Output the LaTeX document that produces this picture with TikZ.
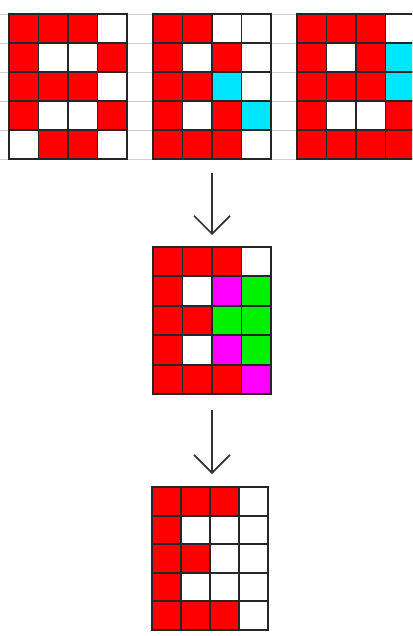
\documentclass[tikz,border=0pt]{standalone}
\usetikzlibrary{arrows.meta}
\definecolor{colR}{HTML}{FF0000}
\definecolor{colW}{HTML}{FFFFFF}
\definecolor{colC}{HTML}{00E6FF}
\definecolor{colG}{HTML}{00F000}
\definecolor{colM}{HTML}{FF00FF}
\tikzset{
  cell/.style={draw=black!85, line width=1.9pt, inner sep=0pt, outer sep=0pt, anchor=north west},
  gridbox/.style={inner sep=0pt, outer sep=0pt},
  faint/.style={draw=black!18, line width=0.6pt},
  arr/.style={draw=black!80, line width=1.7pt, -{Straight Barb[length=18pt,width=36pt,line width=1.7pt]}}
}
\newcommand\drawgrid[6]{%
  \foreach \row [count=\r] in {#6}{%
    \foreach \c [count=\k] in \row {%
      \node[cell, minimum width=#4pt, minimum height=#5pt, fill=col\c]
        (#1-\r-\k) at ({#2+(\k-1)*#4},{#3+(\r-1)*#5}) {};
    }%
  }%
  \node[gridbox, minimum width=4*#4pt, minimum height=5*#5pt] (#1) at ({#2+2*#4},{#3+2.5*#5}) {};
}
\begin{document}
\begin{tikzpicture}[x=1pt,y=-1pt]
  \useasboundingbox (0,0) rectangle (412,636);
  \clip (0,0) rectangle (412,636);
  \fill[white] (0,0) rectangle (412,636);
  \foreach \k in {0,...,5} \draw[faint] (0,{14+29*\k}) -- (412,{14+29*\k});
  \drawgrid{ga}{9}{14}{29.5}{29}{{R,R,R,W},{R,W,W,R},{R,R,R,W},{R,W,W,R},{W,R,R,W}}
  \drawgrid{gb}{153}{14}{29.5}{29}{{R,R,W,W},{R,W,R,W},{R,R,C,W},{R,W,R,C},{R,R,R,W}}
  \drawgrid{gc}{297}{14}{29.5}{29}{{R,R,R,W},{R,W,R,C},{R,R,R,C},{R,W,W,R},{R,R,R,R}}
  \drawgrid{gm}{153}{247}{29.5}{29.4}{{R,R,R,W},{R,W,M,G},{R,R,G,G},{R,W,M,G},{R,R,R,M}}
  \drawgrid{gr}{152}{487}{29}{28.6}{{R,R,R,W},{R,W,W,W},{R,R,W,W},{R,W,W,W},{R,R,R,W}}
  \draw[arr, shorten <=14pt, shorten >=12pt] (gb.south) -- (gm.north);
  \draw[arr, shorten <=16pt, shorten >=13pt] (gm.south) -- (gm.south |- gr.north);
\end{tikzpicture}
\end{document}
